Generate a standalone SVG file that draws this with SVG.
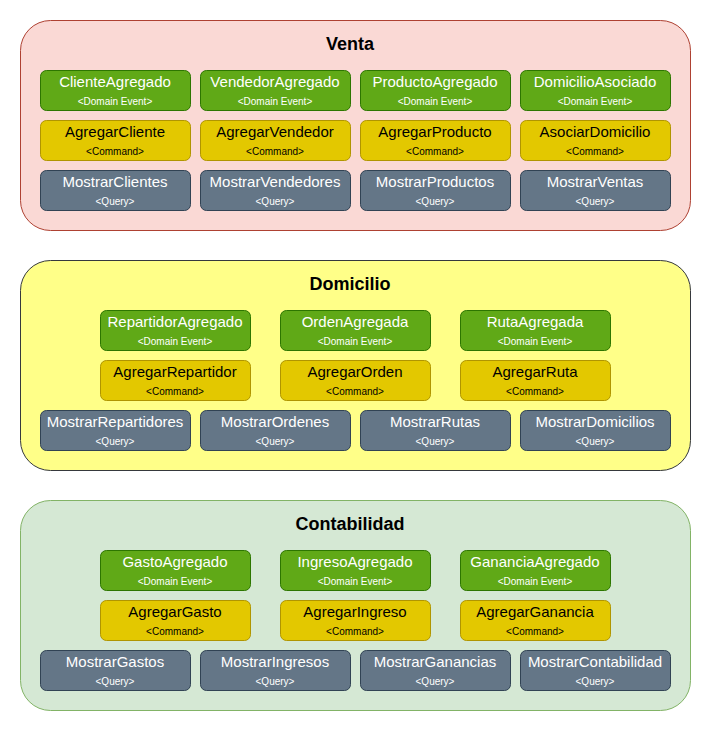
<svg xmlns="http://www.w3.org/2000/svg" width="711" height="731" viewBox="0 0 711 731">
<style>
text{font-family:"Liberation Sans",Arial,sans-serif;text-anchor:middle}
.title{font-size:18px;font-weight:bold;fill:#000}
.m{font-size:15px}
.s{font-size:10px}
.ev rect{fill:#60a917;stroke:#2d7600}
.ev text{fill:#fff}
.cmd rect{fill:#e3c800;stroke:#b09500}
.cmd text{fill:#000}
.q rect{fill:#647687;stroke:#314354}
.q text{fill:#fff}
</style>
<rect width="711" height="731" fill="#fff"/>
<g id="venta">
<rect x="20.5" y="20.5" width="670" height="210" rx="30" fill="#fad9d5" stroke="#ae4132"/>
<text class="title" x="350" y="50">Venta</text>
</g>
<g id="domicilio">
<rect x="20.5" y="260.5" width="670" height="210" rx="30" fill="#ffff88" stroke="#36393d"/>
<text class="title" x="350" y="290">Domicilio</text>
</g>
<g id="contabilidad">
<rect x="20.5" y="500.5" width="670" height="210" rx="30" fill="#d5e8d4" stroke="#82b366"/>
<text class="title" x="350" y="530">Contabilidad</text>
</g>

<g id="ClienteAgregado" class="ev"><rect x="40.5" y="70.5" width="150" height="40" rx="6"/><text class="m" x="115" y="87">ClienteAgregado</text><text class="s" x="115" y="104.5">&lt;Domain Event&gt;</text></g>
<g id="VendedorAgregado" class="ev"><rect x="200.5" y="70.5" width="150" height="40" rx="6"/><text class="m" x="275" y="87">VendedorAgregado</text><text class="s" x="275" y="104.5">&lt;Domain Event&gt;</text></g>
<g id="ProductoAgregado" class="ev"><rect x="360.5" y="70.5" width="150" height="40" rx="6"/><text class="m" x="435" y="87">ProductoAgregado</text><text class="s" x="435" y="104.5">&lt;Domain Event&gt;</text></g>
<g id="DomicilioAsociado" class="ev"><rect x="520.5" y="70.5" width="150" height="40" rx="6"/><text class="m" x="595" y="87">DomicilioAsociado</text><text class="s" x="595" y="104.5">&lt;Domain Event&gt;</text></g>

<g id="AgregarCliente" class="cmd"><rect x="40.5" y="120.5" width="150" height="40" rx="6"/><text class="m" x="115" y="137">AgregarCliente</text><text class="s" x="115" y="154.5">&lt;Command&gt;</text></g>
<g id="AgregarVendedor" class="cmd"><rect x="200.5" y="120.5" width="150" height="40" rx="6"/><text class="m" x="275" y="137">AgregarVendedor</text><text class="s" x="275" y="154.5">&lt;Command&gt;</text></g>
<g id="AgregarProducto" class="cmd"><rect x="360.5" y="120.5" width="150" height="40" rx="6"/><text class="m" x="435" y="137">AgregarProducto</text><text class="s" x="435" y="154.5">&lt;Command&gt;</text></g>
<g id="AsociarDomicilio" class="cmd"><rect x="520.5" y="120.5" width="150" height="40" rx="6"/><text class="m" x="595" y="137">AsociarDomicilio</text><text class="s" x="595" y="154.5">&lt;Command&gt;</text></g>

<g id="MostrarClientes" class="q"><rect x="40.5" y="170.5" width="150" height="40" rx="6"/><text class="m" x="115" y="187">MostrarClientes</text><text class="s" x="115" y="204.5">&lt;Query&gt;</text></g>
<g id="MostrarVendedores" class="q"><rect x="200.5" y="170.5" width="150" height="40" rx="6"/><text class="m" x="275" y="187">MostrarVendedores</text><text class="s" x="275" y="204.5">&lt;Query&gt;</text></g>
<g id="MostrarProductos" class="q"><rect x="360.5" y="170.5" width="150" height="40" rx="6"/><text class="m" x="435" y="187">MostrarProductos</text><text class="s" x="435" y="204.5">&lt;Query&gt;</text></g>
<g id="MostrarVentas" class="q"><rect x="520.5" y="170.5" width="150" height="40" rx="6"/><text class="m" x="595" y="187">MostrarVentas</text><text class="s" x="595" y="204.5">&lt;Query&gt;</text></g>

<g id="RepartidorAgregado" class="ev"><rect x="100.5" y="310.5" width="150" height="40" rx="6"/><text class="m" x="175" y="327">RepartidorAgregado</text><text class="s" x="175" y="344.5">&lt;Domain Event&gt;</text></g>
<g id="OrdenAgregada" class="ev"><rect x="280.5" y="310.5" width="150" height="40" rx="6"/><text class="m" x="355" y="327">OrdenAgregada</text><text class="s" x="355" y="344.5">&lt;Domain Event&gt;</text></g>
<g id="RutaAgregada" class="ev"><rect x="460.5" y="310.5" width="150" height="40" rx="6"/><text class="m" x="535" y="327">RutaAgregada</text><text class="s" x="535" y="344.5">&lt;Domain Event&gt;</text></g>

<g id="AgregarRepartidor" class="cmd"><rect x="100.5" y="360.5" width="150" height="40" rx="6"/><text class="m" x="175" y="377">AgregarRepartidor</text><text class="s" x="175" y="394.5">&lt;Command&gt;</text></g>
<g id="AgregarOrden" class="cmd"><rect x="280.5" y="360.5" width="150" height="40" rx="6"/><text class="m" x="355" y="377">AgregarOrden</text><text class="s" x="355" y="394.5">&lt;Command&gt;</text></g>
<g id="AgregarRuta" class="cmd"><rect x="460.5" y="360.5" width="150" height="40" rx="6"/><text class="m" x="535" y="377">AgregarRuta</text><text class="s" x="535" y="394.5">&lt;Command&gt;</text></g>

<g id="MostrarRepartidores" class="q"><rect x="40.5" y="410.5" width="150" height="40" rx="6"/><text class="m" x="115" y="427">MostrarRepartidores</text><text class="s" x="115" y="444.5">&lt;Query&gt;</text></g>
<g id="MostrarOrdenes" class="q"><rect x="200.5" y="410.5" width="150" height="40" rx="6"/><text class="m" x="275" y="427">MostrarOrdenes</text><text class="s" x="275" y="444.5">&lt;Query&gt;</text></g>
<g id="MostrarRutas" class="q"><rect x="360.5" y="410.5" width="150" height="40" rx="6"/><text class="m" x="435" y="427">MostrarRutas</text><text class="s" x="435" y="444.5">&lt;Query&gt;</text></g>
<g id="MostrarDomicilios" class="q"><rect x="520.5" y="410.5" width="150" height="40" rx="6"/><text class="m" x="595" y="427">MostrarDomicilios</text><text class="s" x="595" y="444.5">&lt;Query&gt;</text></g>

<g id="GastoAgregado" class="ev"><rect x="100.5" y="550.5" width="150" height="40" rx="6"/><text class="m" x="175" y="567">GastoAgregado</text><text class="s" x="175" y="584.5">&lt;Domain Event&gt;</text></g>
<g id="IngresoAgregado" class="ev"><rect x="280.5" y="550.5" width="150" height="40" rx="6"/><text class="m" x="355" y="567">IngresoAgregado</text><text class="s" x="355" y="584.5">&lt;Domain Event&gt;</text></g>
<g id="GananciaAgregado" class="ev"><rect x="460.5" y="550.5" width="150" height="40" rx="6"/><text class="m" x="535" y="567">GananciaAgregado</text><text class="s" x="535" y="584.5">&lt;Domain Event&gt;</text></g>

<g id="AgregarGasto" class="cmd"><rect x="100.5" y="600.5" width="150" height="40" rx="6"/><text class="m" x="175" y="617">AgregarGasto</text><text class="s" x="175" y="634.5">&lt;Command&gt;</text></g>
<g id="AgregarIngreso" class="cmd"><rect x="280.5" y="600.5" width="150" height="40" rx="6"/><text class="m" x="355" y="617">AgregarIngreso</text><text class="s" x="355" y="634.5">&lt;Command&gt;</text></g>
<g id="AgregarGanancia" class="cmd"><rect x="460.5" y="600.5" width="150" height="40" rx="6"/><text class="m" x="535" y="617">AgregarGanancia</text><text class="s" x="535" y="634.5">&lt;Command&gt;</text></g>

<g id="MostrarGastos" class="q"><rect x="40.5" y="650.5" width="150" height="40" rx="6"/><text class="m" x="115" y="667">MostrarGastos</text><text class="s" x="115" y="684.5">&lt;Query&gt;</text></g>
<g id="MostrarIngresos" class="q"><rect x="200.5" y="650.5" width="150" height="40" rx="6"/><text class="m" x="275" y="667">MostrarIngresos</text><text class="s" x="275" y="684.5">&lt;Query&gt;</text></g>
<g id="MostrarGanancias" class="q"><rect x="360.5" y="650.5" width="150" height="40" rx="6"/><text class="m" x="435" y="667">MostrarGanancias</text><text class="s" x="435" y="684.5">&lt;Query&gt;</text></g>
<g id="MostrarContabilidad" class="q"><rect x="520.5" y="650.5" width="150" height="40" rx="6"/><text class="m" x="595" y="667">MostrarContabilidad</text><text class="s" x="595" y="684.5">&lt;Query&gt;</text></g>

<g id="connectors"></g>
</svg>
